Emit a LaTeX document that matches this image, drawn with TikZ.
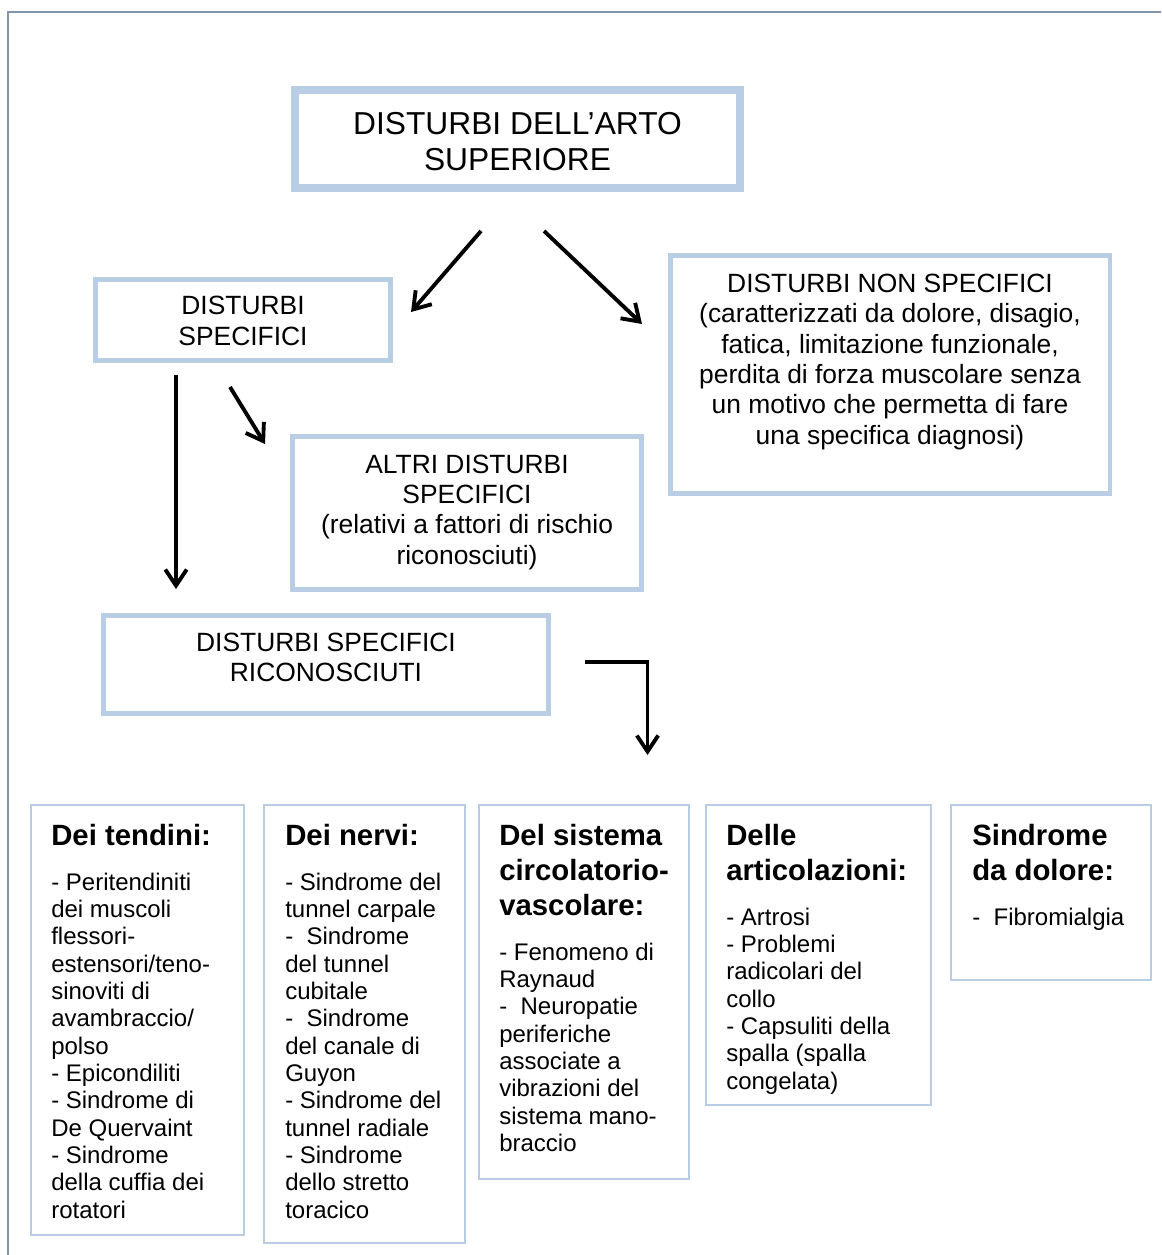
\documentclass[tikz,border=0pt]{standalone}
\usepackage{fontspec}
\setmainfont{Liberation Sans}
\usetikzlibrary{arrows.meta}
\definecolor{boxblue}{HTML}{B9CDE5}
\definecolor{framegray}{HTML}{8395AE}
\begin{document}
\begin{tikzpicture}[x=0.75pt,y=-0.75pt,
  panel/.style={draw=boxblue, fill=white, inner sep=0pt, line width=3.4pt},
  thinpanel/.style={draw=boxblue, fill=white, inner sep=0pt, line width=1.5pt},
  toptext/.style={align=center, inner sep=0pt, font=\fontsize{23.8}{27}\selectfont},
  midtext/.style={align=center, inner sep=0pt, font=\fontsize{19.8}{22.8}\selectfont},
  headtext/.style={align=left, anchor=north west, inner sep=0pt, font=\bfseries\fontsize{22}{26.25}\selectfont},
  bodytext/.style={align=left, anchor=north west, inner sep=0pt, font=\fontsize{18}{20.5}\selectfont},
  flow/.style={line width=2.9pt, -{Straight Barb[length=12pt,width=16pt]}}]

\useasboundingbox (0,0) rectangle (1161,1255);
\fill[white] (0,0) rectangle (1161,1255);

% page frame
\draw[framegray, line width=1.2pt] (8,1255) -- (8,12) -- (1161,12);

% upper boxes
\node[panel, line width=6pt, minimum width=445*0.75pt, minimum height=98*0.75pt] (top) at (517.5,139) {};
\node[toptext] (toplabel) at (517.5,142) {DISTURBI DELL’ARTO\\SUPERIORE};

\node[panel, minimum width=295.5*0.75pt, minimum height=81.5*0.75pt] (spec) at (243,320) {};
\node[midtext] (speclabel) at (243,321) {DISTURBI\\SPECIFICI};

\node[panel, minimum width=439.5*0.75pt, minimum height=238.5*0.75pt] (nonspec) at (890,374.5) {};
\node[midtext] (nonspeclabel) at (890,361.8) {DISTURBI NON SPECIFICI\\(caratterizzati da dolore, disagio,\\fatica, limitazione funzionale,\\perdita di forza muscolare senza\\un motivo che permetta di fare\\una specifica diagnosi)};

\node[panel, minimum width=349.5*0.75pt, minimum height=153.5*0.75pt] (altri) at (467,513) {};
\node[midtext] (altrilabel) at (467,512.3) {ALTRI DISTURBI\\SPECIFICI\\(relativi a fattori di rischio\\riconosciuti)};

\node[panel, minimum width=445.5*0.75pt, minimum height=98.5*0.75pt] (ricon) at (326,664.5) {};
\node[midtext] (riconlabel) at (326,657.5) {DISTURBI SPECIFICI\\RICONOSCIUTI};

% arrows
\coordinate (a1s) at (481,231);  \coordinate (a1e) at (411,312);
\coordinate (a2s) at (544,231);  \coordinate (a2e) at (642,324);
\coordinate (a3s) at (176,375);  \coordinate (a3e) at (176,589);
\coordinate (a4s) at (230,387);  \coordinate (a4e) at (265,444);
\coordinate (a5s) at (585,662);  \coordinate (a5e) at (647.5,755);
\draw[flow] (a1s) -- (a1e);
\draw[flow] (a2s) -- (a2e);
\draw[flow] (a3s) -- (a3e);
\draw[flow] (a4s) -- (a4e);
\draw[flow] (a5s) -| (a5e);

% lower category boxes
\node[thinpanel, minimum width=213*0.75pt, minimum height=430*0.75pt] (tend) at (137.5,1020) {};
\node[thinpanel, minimum width=201*0.75pt, minimum height=438*0.75pt] (nervi) at (364.5,1024) {};
\node[thinpanel, minimum width=210*0.75pt, minimum height=374*0.75pt] (circ) at (584,992) {};
\node[thinpanel, minimum width=225*0.75pt, minimum height=300*0.75pt] (artic) at (818.5,955) {};
\node[thinpanel, minimum width=200*0.75pt, minimum height=175*0.75pt] (dolore) at (1051,892.5) {};

\node[headtext] (tendhead) at (51,824.4) {Dei tendini:};
\node[bodytext] (tendbody) at (51,872.4) {- Peritendiniti\\dei muscoli\\flessori-\\estensori/teno-\\sinoviti di\\avambraccio/\\polso\\- Epicondiliti\\- Sindrome di\\De Quervaint\\- Sindrome\\della cuffia dei\\rotatori};

\node[headtext] (nervihead) at (285,824.4) {Dei nervi:};
\node[bodytext] (nervibody) at (285,872.4) {- Sindrome del\\tunnel carpale\\-\ \ Sindrome\\del tunnel\\cubitale\\-\ \ Sindrome\\del canale di\\Guyon\\- Sindrome del\\tunnel radiale\\- Sindrome\\dello stretto\\toracico};

\node[headtext] (circhead) at (499,824.4) {Del sistema\\circolatorio-\\vascolare:};
\node[bodytext] (circbody) at (499,942.4) {- Fenomeno di\\Raynaud\\-\ \ Neuropatie\\periferiche\\associate a\\vibrazioni del\\sistema mano-\\braccio};

\node[headtext] (artichead) at (726,824.4) {Delle\\articolazioni:};
\node[bodytext] (articbody) at (726,907.4) {- Artrosi\\- Problemi\\radicolari del\\collo\\- Capsuliti della\\spalla (spalla\\congelata)};

\node[headtext] (dolorehead) at (972,824.4) {Sindrome\\da dolore:};
\node[bodytext] (dolorebody) at (972,907.4) {-\ \ Fibromialgia};
\end{tikzpicture}
\end{document}
